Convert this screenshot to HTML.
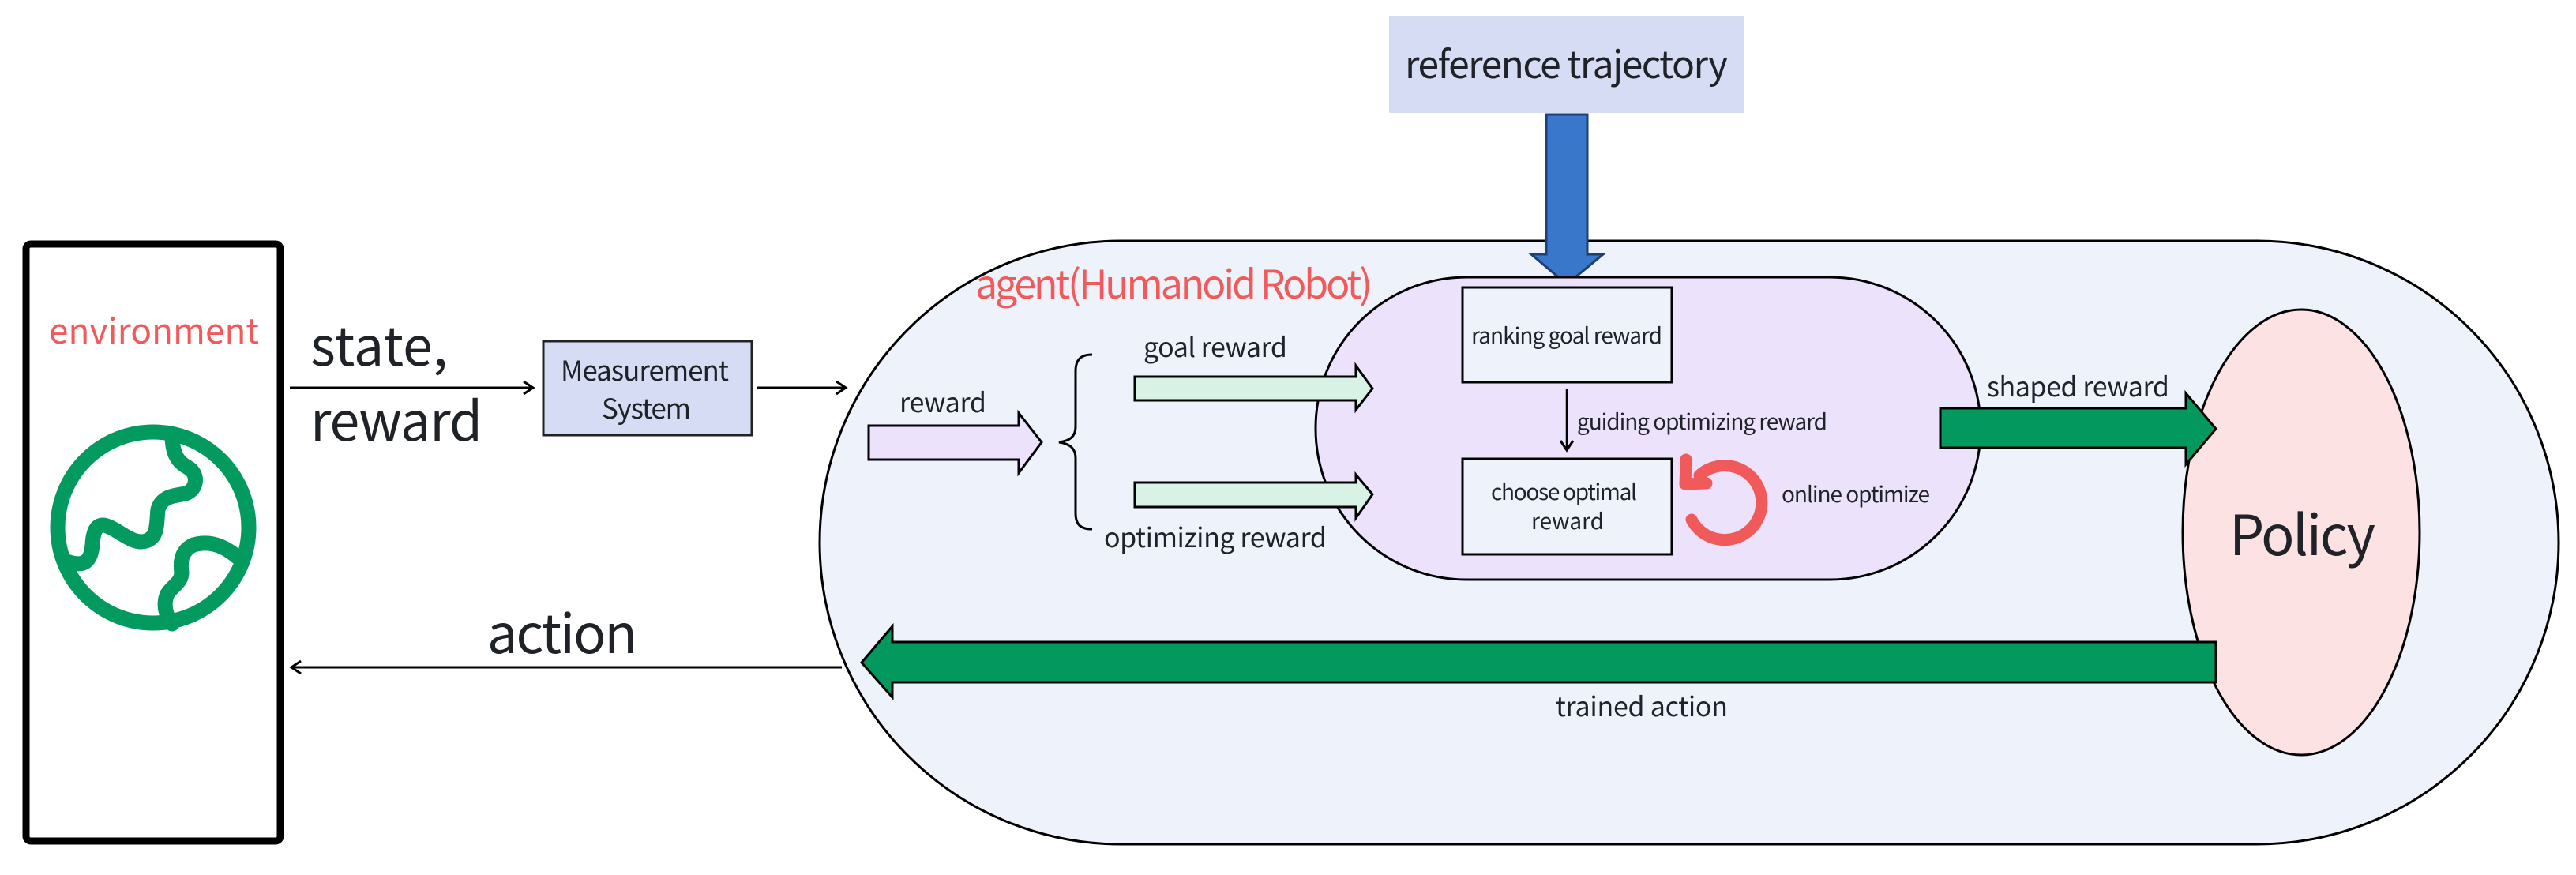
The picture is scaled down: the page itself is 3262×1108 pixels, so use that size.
<!DOCTYPE html>
<html><head><meta charset="utf-8"><style>
html,body{margin:0;padding:0;background:#fff;}
svg{display:block;}
text{font-family:"Noto Sans CJK SC","Liberation Sans",sans-serif;fill:#1f2328;}
</style></head><body>
<svg width="3262" height="1108" viewBox="0 0 3262 1108" xmlns="http://www.w3.org/2000/svg">
<defs>
<marker id="ah" markerWidth="20" markerHeight="20" refX="14" refY="10" orient="auto" markerUnits="userSpaceOnUse">
<path d="M2,2 L14,10 L2,18" fill="none" stroke="#000" stroke-width="3"/>
</marker>
</defs>

<!-- environment box -->
<rect x="33" y="309" width="322" height="756" rx="6" fill="#fff" stroke="#000" stroke-width="9"/>
<text x="62" y="435" font-size="44" style="fill:#f05a5a" textLength="266">environment</text>
<!-- globe -->
<g fill="none" stroke="#029a5e" stroke-width="19" stroke-linecap="round" stroke-linejoin="round">
<circle cx="194" cy="668" r="121"/>
<path d="M218,550 C218,575 225,585 238,592 C252,600 250,620 235,625 C220,628 205,628 200,645 C198,665 200,680 185,685 C170,690 155,675 140,668 C125,660 118,668 117,690 C115,710 108,720 82,710"/>
<path d="M300,705 C280,688 262,685 245,690 C230,697 228,710 230,725 C230,738 218,742 212,752 C206,765 210,780 218,790"/>
</g>

<!-- state reward arrow -->
<line x1="367" y1="491" x2="675" y2="491" stroke="#000" stroke-width="3" marker-end="url(#ah)"/>
<text x="393" y="463" font-size="68" textLength="174">state,</text>
<text x="393" y="558" font-size="68" textLength="218">reward</text>

<!-- measurement -->
<rect x="688" y="432" width="264" height="119" fill="#d6dcf3" stroke="#222" stroke-width="3"/>
<text x="710" y="482" font-size="35" textLength="213">Measurement</text>
<text x="762" y="530" font-size="35" textLength="113">System</text>
<line x1="959" y1="491" x2="1071" y2="491" stroke="#000" stroke-width="3" marker-end="url(#ah)"/>

<!-- action arrow -->
<line x1="1066" y1="845" x2="369" y2="845" stroke="#000" stroke-width="3" marker-end="url(#ah)"/>
<text x="617" y="827" font-size="68" textLength="190">action</text>

<!-- outer pill -->
<rect x="1038" y="305" width="2202" height="764" rx="382" ry="382" fill="#eef2fb" stroke="#000" stroke-width="3"/>
<text x="1235" y="378" font-size="50" style="fill:#f05a5a" textLength="503">agent(Humanoid Robot)</text>

<!-- reference trajectory -->
<rect x="1759" y="20" width="449" height="123" fill="#d6dcf3"/>
<text x="1779" y="99" font-size="48" textLength="409">reference trajectory</text>
<path d="M1958,145 L2010,145 L2010,322 L2030,322 L1984,360 L1939,322 L1958,322 Z" fill="#3877c9" stroke="#1d3f73" stroke-width="3"/>

<!-- inner pill -->
<rect x="1666" y="351" width="842" height="383" rx="191" ry="191" fill="#ece2fb" stroke="#000" stroke-width="3"/>

<!-- policy -->
<ellipse cx="2914" cy="674" rx="150" ry="282" fill="#fde2e4" stroke="#000" stroke-width="3"/>
<text x="2823" y="703" font-size="70" textLength="185">Policy</text>

<!-- ranking / choose boxes -->
<rect x="1852" y="364" width="265" height="120" fill="#eef2fb" stroke="#000" stroke-width="3"/>
<text x="1863" y="435" font-size="28" textLength="242">ranking goal reward</text>
<line x1="1984" y1="493" x2="1984" y2="570" stroke="#000" stroke-width="2.5" marker-end="url(#ah)"/>
<text x="1997" y="544" font-size="28" textLength="317">guiding optimizing reward</text>
<rect x="1852" y="581" width="265" height="121" fill="#eef2fb" stroke="#000" stroke-width="3"/>
<text x="1888" y="633" font-size="28" textLength="185">choose optimal</text>
<text x="1985" y="670" font-size="28" text-anchor="middle">reward</text>

<!-- red circular arrow -->
<g fill="none" stroke="#f05a5a" stroke-width="15" stroke-linecap="round" stroke-linejoin="round">
<path d="M2142,658 A47,47 0 1 0 2152,602"/>
<path d="M2135,582 L2134,613 L2161,612"/>
</g>
<text x="2256" y="636" font-size="28" textLength="188">online optimize</text>

<!-- reward purple arrow -->
<path d="M1100,539 L1290,539 L1290,523 L1319,560 L1290,599 L1290,582 L1100,582 Z" fill="#ece2fb" stroke="#000" stroke-width="3"/>
<text x="1139" y="522" font-size="34" textLength="110">reward</text>

<!-- brace -->
<path d="M1383,449 C1368,449 1362,456 1362,470 L1362,540 C1362,553 1355,558 1341,560 C1355,562 1362,568 1362,580 L1362,650 C1362,664 1368,670 1383,670" fill="none" stroke="#000" stroke-width="3"/>

<!-- goal / optimizing arrows -->
<path d="M1437,477 L1717,477 L1717,463 L1738,492 L1717,519 L1717,507 L1437,507 Z" fill="#d8f3e6" stroke="#000" stroke-width="3"/>
<text x="1448" y="452" font-size="34" textLength="182">goal reward</text>
<path d="M1437,611 L1717,611 L1717,601 L1738,626 L1717,656 L1717,642 L1437,642 Z" fill="#d8f3e6" stroke="#000" stroke-width="3"/>
<text x="1398" y="693" font-size="34" textLength="282">optimizing reward</text>

<!-- shaped reward -->
<path d="M2457,517 L2768,517 L2768,498 L2806,543 L2768,588 L2768,567 L2457,567 Z" fill="#02985e" stroke="#000" stroke-width="3"/>
<text x="2516" y="502" font-size="34" textLength="231">shaped reward</text>

<!-- trained action -->
<path d="M2806,813 L1130,813 L1130,793 L1091,839 L1130,883 L1130,864 L2806,864 Z" fill="#02985e" stroke="#000" stroke-width="3"/>
<text x="1970" y="907" font-size="34" textLength="218">trained action</text>
</svg>
</body></html>
